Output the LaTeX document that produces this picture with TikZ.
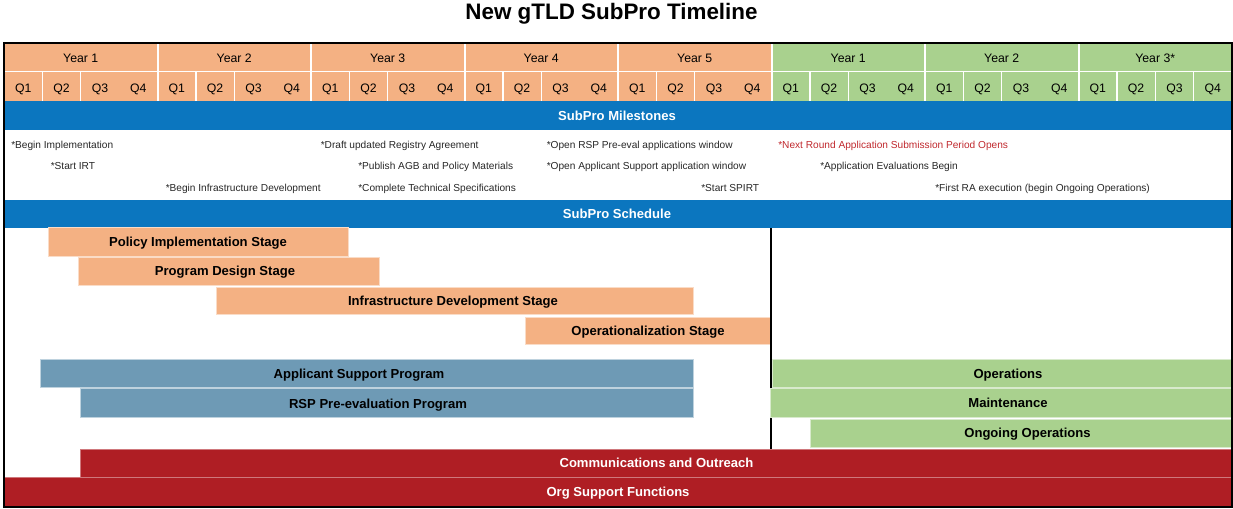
\documentclass[tikz,border=0pt]{standalone}
\usepackage{fontspec}
\setmainfont{Liberation Sans}
\definecolor{stageorange}{HTML}{F4B183}
\definecolor{opsgreen}{HTML}{A9D18E}
\definecolor{bandblue}{HTML}{0B76BF}
\definecolor{progblue}{HTML}{6E9AB5}
\definecolor{supportred}{HTML}{AF1E24}
\definecolor{notered}{HTML}{C0282D}
\begin{document}
\begin{tikzpicture}[x=0.75pt, y=-0.75pt,
  hdr/.style={font=\fontsize{9.2}{11}\selectfont, text height=0.72em, text depth=0pt, inner sep=0pt},
  note/.style={font=\fontsize{7.6}{9}\selectfont, anchor=west, text height=0.72em, text depth=0pt, inner sep=0pt, text=black!85},
  lbl/.style={font=\fontsize{9.8}{12}\selectfont\bfseries, text height=0.72em, text depth=0pt, inner sep=0pt},
  bandlbl/.style={lbl, text=white},
  sep/.style={white, line width=1.1pt},
  stagebar/.style={fill=stageorange, draw=white!55!stageorange, line width=0.6pt},
  progbar/.style={fill=progblue, draw=white!55!progblue, line width=0.6pt},
  opsbar/.style={fill=opsgreen, draw=white!55!opsgreen, line width=0.6pt},
  redbar/.style={fill=supportred, draw=white!40!supportred, line width=0.6pt}]
\useasboundingbox (0,0) rectangle (1233,508);
\node[font=\fontsize{16.8}{20}\selectfont\bfseries, text height=0.72em, text depth=0pt, inner sep=0pt] (title) at (611.5,14.5) {New gTLD SubPro Timeline};
\fill[stageorange] (4,43) rectangle (771.5,101);
\fill[opsgreen] (771.5,43) rectangle (1232,101);
\draw[sep] (4,71.5) -- (1232,71.5);
\foreach \k in {1,...,7}
  \draw[sep, line width=1.5pt] ({4+153.5*\k},43) -- ({4+153.5*\k},101);
\foreach \k in {0,...,7} {
  \draw[sep] ({42.375+153.5*\k},71.5) -- ++(0,29.5);
  \draw[sep] ({80.75+153.5*\k},71.5) -- ++(0,29.5);
}
\draw[sep] (1193.6,71.5) -- (1193.6,101);
\foreach \t [count=\k from 0] in {Year 1,Year 2,Year 3,Year 4,Year 5,Year 1,Year 2,Year 3*}
  \node[hdr] (yr\k) at ({80.75+153.5*\k},57.5) {\t};
\foreach \k in {0,...,7}
  \foreach \q in {1,...,4}
    \node[hdr] (q\k\q) at ({4+153.5*\k+38.375*(\q-0.5)},88) {Q\q};
\fill[bandblue] (4,101) rectangle (1232,130);
\node[bandlbl] (milestones) at (617,116) {SubPro Milestones};
\node[note] (m1) at (11,143.3) {*Begin Implementation};
\node[note] (m2) at (50.5,165) {*Start IRT};
\node[note] (m3) at (165.5,186.3) {*Begin Infrastructure Development};
\node[note] (m4) at (320.5,143.3) {*Draft updated Registry Agreement};
\node[note] (m5) at (358,165) {*Publish AGB and Policy Materials};
\node[note] (m6) at (358,186.3) {*Complete Technical Specifications};
\node[note] (m7) at (546.5,143.3) {*Open RSP Pre-eval applications window};
\node[note] (m8) at (546.5,165) {*Open Applicant Support application window};
\node[note] (m9) at (701,186.3) {*Start SPIRT};
\node[note, text=notered] (m10) at (778,143.3) {*Next Round Application Submission Period Opens};
\node[note] (m11) at (820,165) {*Application Evaluations Begin};
\node[note] (m12) at (935,186.3) {*First RA execution (begin Ongoing Operations)};
\fill[bandblue] (4,200) rectangle (1232,228);
\node[bandlbl] (schedule) at (617,214) {SubPro Schedule};
\draw[stagebar] (48,227.5) rectangle (348,256);
\node[lbl] (policy) at (198,241.5) {Policy Implementation Stage};
\draw[stagebar] (78,257) rectangle (379,285);
\node[lbl] (design) at (225,271) {Program Design Stage};
\draw[stagebar] (216,287) rectangle (693,314.5);
\node[lbl] (infra) at (453,301) {Infrastructure Development Stage};
\draw[stagebar] (525,317) rectangle (770,344.5);
\node[lbl] (opstage) at (648,330.5) {Operationalization Stage};
\draw[progbar] (40,359) rectangle (693,387);
\node[lbl] (appsupport) at (359,374) {Applicant Support Program};
\draw[progbar] (80,388) rectangle (693,417);
\node[lbl] (rsp) at (378,404) {RSP Pre-evaluation Program};
\draw[line width=1pt] (771,228) -- (771,449);
\draw[opsbar] (772,359) rectangle (1232,387);
\node[lbl] (operations) at (1008,374) {Operations};
\draw[opsbar] (770,388) rectangle (1232,417);
\node[lbl] (maintenance) at (1008,403) {Maintenance};
\draw[opsbar] (810,419) rectangle (1232,447);
\node[lbl] (ongoing) at (1027.5,433) {Ongoing Operations};
\draw[redbar] (80,449) rectangle (1232,477);
\node[lbl, text=white] (comms) at (656.5,463) {Communications and Outreach};
\draw[redbar] (4,477.5) rectangle (1232,507);
\node[lbl, text=white] (orgsupport) at (618,492) {Org Support Functions};
\draw[line width=1.4pt] (4,43) rectangle (1232,507);
\end{tikzpicture}
\end{document}
